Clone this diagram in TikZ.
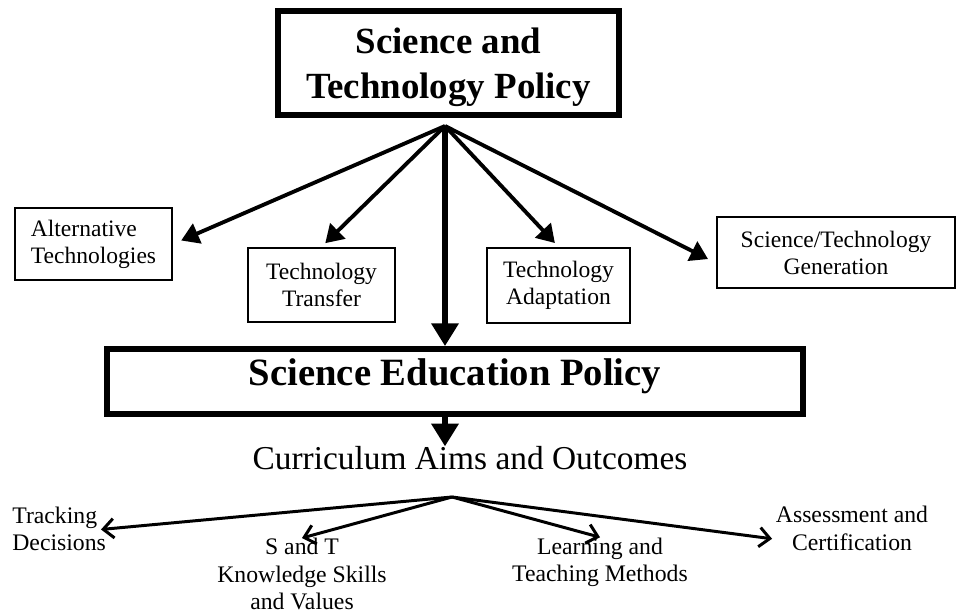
\documentclass[tikz,border=0pt]{standalone}
\usepackage{fontspec}
\setmainfont{Liberation Serif}
\usetikzlibrary{arrows.meta,positioning,calc}

\tikzset{
  policy/.style={draw, line width=3.3pt, inner sep=0pt, align=center},
  branch/.style={draw, line width=1.3pt, inner sep=0pt, align=center, font=\fontsize{13.4}{15.4}\selectfont},
  outcome/.style={inner sep=0pt, font=\fontsize{13.5}{15.5}\selectfont},
  fan/.style={-{Triangle[length=10pt,width=12pt]}, line width=2.2pt},
  trunk/.style={-{Triangle[length=13pt,width=15pt]}, line width=3.4pt},
  spread/.style={-{Straight Barb[length=6pt,width=11pt]}, line width=1.7pt}
}

\begin{document}
\begin{tikzpicture}[x=0.02cm, y=-0.02cm]
  \useasboundingbox (0,0) rectangle (957,614);

 %top policy
  \node[policy, minimum width=6.82cm, minimum height=2.08cm, text depth=0pt,
        font=\fontsize{21}{25.5}\selectfont\bfseries] (stp) at (448.5,63) {Science and\\Technology Policy};
  \coordinate (o) at (445,126);

 %branches
  \node[branch, minimum width=3.14cm, minimum height=1.44cm, align=left] (alt) at (93.5,244) {Alternative\\Technologies};
  \node[branch, minimum width=2.94cm, minimum height=1.48cm] (transfer) at (321.5,285) {Technology\\Transfer};
  \node[branch, minimum width=2.86cm, minimum height=1.50cm] (adapt) at (558.5,285.5) {Technology\\Adaptation};
  \node[branch, minimum width=4.76cm, minimum height=1.42cm] (gen) at (836,252.5) {Science/Technology\\Generation};

  \draw[fan, shorten >=5pt] (o) -- (alt.east);
  \draw[fan, shorten >=3pt] (o) -- (transfer.north);
  \draw[fan, shorten >=3pt] (o) -- (adapt.north);
  \draw[fan, shorten >=5pt] (o) -- (gen.185);

 %education policy
  \node[policy, minimum width=13.92cm, minimum height=1.30cm, text depth=11pt,
        font=\fontsize{22}{26}\selectfont\bfseries] (sep) at (455,381.5) {Science Education Policy};
  \draw[trunk] (o) -- (o |- sep.north);

 %curriculum
  \node[inner sep=0pt, font=\fontsize{19}{22}\selectfont] (cur) at (470,458.5) {Curriculum Aims and Outcomes};
  \draw[trunk] (o |- sep.south) -- (o |- cur.north);
  \coordinate (hub) at (452,497);

 %outcomes
  \node[outcome, align=left, anchor=west] (track) at (12,529) {Tracking\\Decisions};
  \node[outcome, align=center] (skills) at (302,574) {S and T\\Knowledge Skills\\and Values};
  \node[outcome, align=center] (learn) at (600,562) {Learning and\\Teaching Methods};
  \node[outcome, align=center] (assess) at (852,528.5) {Assessment and\\Certification};

  \draw[spread, shorten >=-3pt] (hub) -- (track.east);
  \draw[spread] (hub) -- (skills.north);
  \draw[spread] (hub) -- (learn.north);
  \draw[spread, shorten >=2pt] (hub) -- (assess.188);

\end{tikzpicture}
\end{document}
